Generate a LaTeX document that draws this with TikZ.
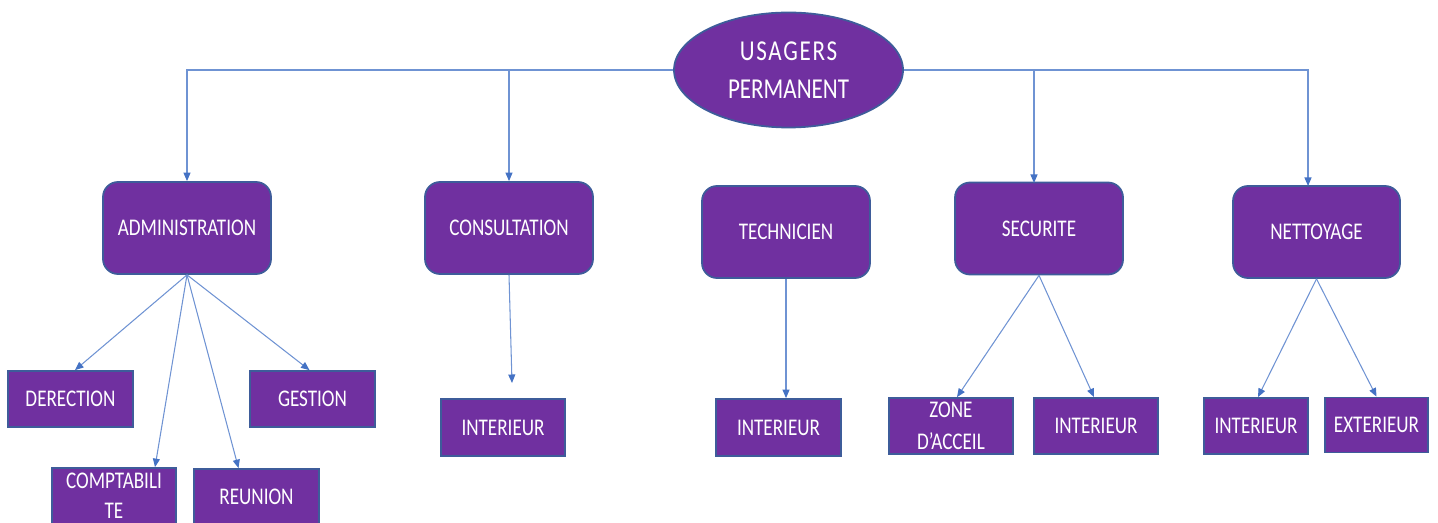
\documentclass[tikz,border=0pt]{standalone}
\usepackage{fontspec}
\setmainfont{Carlito}[FakeStretch=0.8]
\usetikzlibrary{arrows.meta,shapes.geometric}
\definecolor{boxfill}{HTML}{7030A0}
\definecolor{boxline}{HTML}{3E5C9A}
\definecolor{conncol}{HTML}{4472C4}
\definecolor{connline}{HTML}{6F93D3}
\tikzset{
  rbox/.style={draw=boxline,line width=0.5pt,fill=boxfill,rounded corners=0.15cm,text=white,
    minimum width=1.68cm,minimum height=0.92cm,inner sep=0pt,align=center,
    font=\fontsize{6.8pt}{9pt}\selectfont},
  sbox/.style={draw=boxline,line width=0.5pt,fill=boxfill,text=white,
    minimum width=1.25cm,minimum height=0.56cm,inner sep=0pt,align=center,
    font=\fontsize{6.8pt}{9pt}\selectfont},
  topell/.style={ellipse,draw=boxline,line width=0.5pt,fill=boxfill,text=white,
    minimum width=2.29cm,minimum height=1.15cm,inner sep=0pt,align=center,
    font=\fontsize{8.2pt}{10.8pt}\selectfont},
  arr/.style={draw=connline,line width=0.3pt,-{Triangle[length=0.085cm,width=0.07cm,color=conncol]}},
}
\begin{document}
\begin{tikzpicture}
\useasboundingbox (0,0) rectangle (14.38,-5.23);
% top
\node[topell] (U) at (7.885,-0.70) {\addfontfeature{LetterSpace=6}USAGERS\\PERMANENT};
% level 1
\node[rbox] (adm) at (1.87,-2.28) {ADMINISTRATION};
\node[rbox] (cons) at (5.09,-2.28) {CONSULTATION};
\node[rbox] (tech) at (7.86,-2.32) {TECHNICIEN};
\node[rbox] (sec) at (10.39,-2.285) {SECURITE};
\node[rbox,minimum width=1.67cm] (net) at (13.165,-2.32) {NETTOYAGE};
% level 2
\node[sbox] (der) at (0.705,-3.99) {DERECTION};
\node[sbox] (ges) at (3.125,-3.99) {GESTION};
\node[sbox,minimum width=1.24cm] (comp) at (1.14,-4.96) {COMPTABILI\\[-0.02cm]TE};
\node[sbox] (reu) at (2.565,-4.97) {REUNION};
\node[sbox,minimum width=1.24cm,minimum height=0.57cm] (cint) at (5.03,-4.275) {INTERIEUR};
\node[sbox,minimum height=0.57cm] (tint) at (7.785,-4.275) {INTERIEUR};
\node[sbox,minimum width=1.24cm] (zone) at (9.51,-4.26) {ZONE\\D’ACCEIL};
\node[sbox,minimum width=1.24cm] (sint) at (10.96,-4.26) {INTERIEUR};
\node[sbox,minimum width=1.04cm] (nint) at (12.56,-4.26) {INTERIEUR};
\node[sbox,minimum width=1.03cm,minimum height=0.55cm] (ext) at (13.765,-4.25) {EXTERIEUR};
% free ends
\coordinate (sd) at (10.34,-1.83);
\coordinate (nd) at (13.08,-1.86);
\coordinate (ce) at (5.12,-3.83);
% connectors from top
\draw[arr] (U.west) -| (adm.north);
\draw[arr] (U.west -| cons.north) -- (cons.north);
\draw[arr] (U.east) -| (nd);
\draw[arr] (U.east -| sd) -- (sd);
% administration
\draw[arr] (adm.south) -- ([xshift=0.045cm]der.north);
\draw[arr] (adm.south) -- ([xshift=0.41cm]comp.north);
\draw[arr] (adm.south) -- ([xshift=-0.18cm]reu.north);
\draw[arr] (adm.south) -- ([xshift=-0.03cm]ges.north);
% consultation
\draw[arr] (cons.south) -- (ce);
% technicien
\draw[arr] (tech.south) -- (tech.south |- tint.north);
% securite
\draw[arr] (sec.south) -- ([xshift=0.06cm]zone.north);
\draw[arr] (sec.south) -- ([xshift=-0.02cm]sint.north);
% nettoyage
\draw[arr] (net.south) -- ([xshift=0.02cm]nint.north);
\draw[arr] (net.south) -- (ext.north);
\end{tikzpicture}
\end{document}
